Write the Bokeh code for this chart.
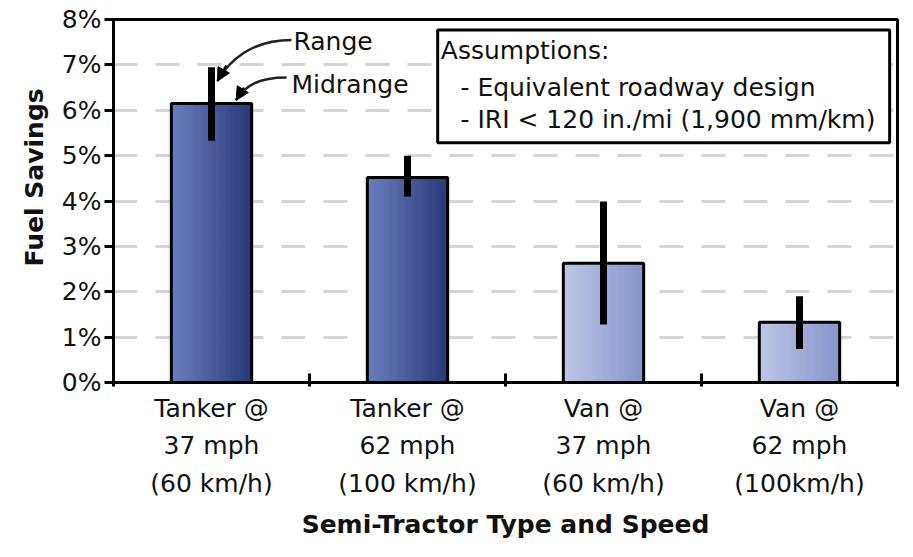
import numpy as np
from bokeh.plotting import figure
from bokeh.models import Range1d, FixedTicker, Label, BoxAnnotation, Arrow, NormalHead, Title
from bokeh.embed import file_html
from bokeh.resources import INLINE

# ---------------- data ----------------
categories = ["Tanker @\n37 mph\n(60 km/h)", "Tanker @\n62 mph\n(100 km/h)",
              "Van @\n37 mph\n(60 km/h)", "Van @\n62 mph\n(100km/h)"]
midrange = [6.15, 4.52, 2.63, 1.33]
range_low = [5.33, 4.10, 1.28, 0.74]
range_high = [6.95, 5.00, 3.99, 1.90]
y_ticks = [0, 1, 2, 3, 4, 5, 6, 7, 8]
y_tick_labels = ["0%", "1%", "2%", "3%", "4%", "5%", "6%", "7%", "8%"]
assumptions = ["Assumptions:", "- Equivalent roadway design", "- IRI < 120 in./mi (1,900 mm/km)"]

# ---------------- styles ----------------
FONT = "DejaVu Sans"
FS = "25px"
bar_gradients = [((106, 126, 190), (42, 58, 122)), ((106, 126, 190), (42, 58, 122)),
                 ((190, 198, 230), (134, 150, 204)), ((190, 198, 230), (134, 150, 204))]
BAR_W = 0.41
N_STRIPS = 30

p = figure(width=902, height=541, x_range=Range1d(0, 4), y_range=Range1d(0, 8),
           output_backend="svg", toolbar_location=None,
           min_border_left=113, min_border_top=19, min_border_right=5, min_border_bottom=158)
p.background_fill_color = "white"
p.border_fill_color = "white"
p.outline_line_color = "black"
p.outline_line_width = 3

centers = [i + 0.5 for i in range(len(categories))]
lefts, rights, tops, colors = [], [], [], []
for c, v, (c0, c1) in zip(centers, midrange, bar_gradients):
    for k in range(N_STRIPS):
        t = k / (N_STRIPS - 1)
        col = tuple(int(round(a + (b - a) * t)) for a, b in zip(c0, c1))
        l = c - BAR_W / 2 + k * BAR_W / N_STRIPS
        lefts.append(l)
        rights.append(l + BAR_W / N_STRIPS)
        tops.append(v)
        colors.append("#%02x%02x%02x" % col)
p.quad(left=lefts, right=rights, top=tops, bottom=0, fill_color=colors,
       line_color=colors, line_width=1)
p.quad(left=[c - BAR_W / 2 for c in centers], right=[c + BAR_W / 2 for c in centers],
       top=midrange, bottom=0, fill_color=None, line_color="black", line_width=3)

# range bars
p.segment(x0=centers, y0=range_low, x1=centers, y1=range_high,
          line_color="black", line_width=7, line_cap="butt")

# "Range" / "Midrange" call-out arrows
p.bezier(x0=[0.908, 0.883], y0=[7.55, 6.72], x1=[0.53, 0.625], y1=[6.64, 6.22],
         cx0=[0.706, 0.741], cy0=[7.55, 6.72], cx1=[0.590, 0.671], cy1=[7.10, 6.55],
         line_color="#222222", line_width=2.5)
for xs, ys, xe, ye in [(0.575, 6.99, 0.53, 6.64), (0.665, 6.50, 0.625, 6.22)]:
    p.add_layout(Arrow(end=NormalHead(size=13, fill_color="black", line_color="black"),
                       x_start=xs, y_start=ys, x_end=xe, y_end=ye,
                       line_color="black", line_width=2))
p.add_layout(Label(x=0.918, y=7.51, text="Range", text_font=FONT, text_font_size=FS,
                   text_baseline="middle", text_align="left", text_color="#111111"))
p.add_layout(Label(x=0.908, y=6.57, text="Midrange", text_font=FONT, text_font_size=FS,
                   text_baseline="middle", text_align="left", text_color="#111111"))

# assumptions box
p.add_layout(BoxAnnotation(left=1.654, right=3.960, top=7.767, bottom=5.283,
                           fill_color="white", fill_alpha=1.0,
                           line_color="black", line_width=3, line_alpha=1.0))
for txt, x, y in zip(assumptions, [1.67, 1.77, 1.77], [7.31, 6.50, 5.79]):
    p.add_layout(Label(x=x, y=y, text=txt, text_font=FONT, text_font_size=FS,
                       text_baseline="middle", text_align="left", text_color="#111111"))

# y axis
yax = p.yaxis[0]
yax.ticker = FixedTicker(ticks=y_ticks, minor_ticks=[])
yax.major_label_overrides = {t: l for t, l in zip(y_ticks, y_tick_labels)}
yax.major_label_text_font = FONT
yax.major_label_text_font_size = FS
yax.major_label_text_color = "#111111"
yax.major_tick_out = 9
yax.major_tick_in = 0
yax.major_tick_line_width = 3
yax.major_tick_line_color = "black"
yax.axis_line_width = 3
yax.axis_line_color = "black"
yax.major_label_standoff = 3

# x axis
xax = p.xaxis[0]
xax.ticker = FixedTicker(ticks=centers, minor_ticks=[0, 1, 2, 3, 4])
xax.major_label_overrides = {c: l for c, l in zip(centers, categories)}
xax.major_label_text_font = FONT
xax.major_label_text_font_size = FS
xax.major_label_text_color = "#111111"
xax.major_label_text_line_height = 1.3
xax.major_tick_in = 0
xax.major_tick_out = 0
xax.major_tick_line_color = None
xax.minor_tick_in = 9
xax.minor_tick_out = 4
xax.minor_tick_line_width = 3
xax.minor_tick_line_color = "black"
xax.axis_line_width = 3
xax.axis_line_color = "black"
xax.major_label_standoff = 7
xax.axis_label = "Semi-Tractor Type and Speed"
xax.axis_label_text_font = FONT
xax.axis_label_text_font_size = FS
xax.axis_label_text_font_style = "bold"
xax.axis_label_text_color = "#111111"
xax.axis_label_standoff = 9

# y title (placed above the frame centre, as in the reference)
p.add_layout(Title(text="Fuel Savings", align="left", offset=116, standoff=19,
                   text_font=FONT, text_font_size=FS, text_font_style="bold",
                   text_color="#111111"), "left")

# grid
p.xgrid.grid_line_color = None
p.ygrid.ticker = FixedTicker(ticks=[1, 2, 3, 4, 5, 6, 7])
p.ygrid.grid_line_color = "#d4d4d4"
p.ygrid.grid_line_width = 3
p.ygrid.grid_line_dash = "24 18"

open("out.html", "w").write(file_html(p, INLINE))
